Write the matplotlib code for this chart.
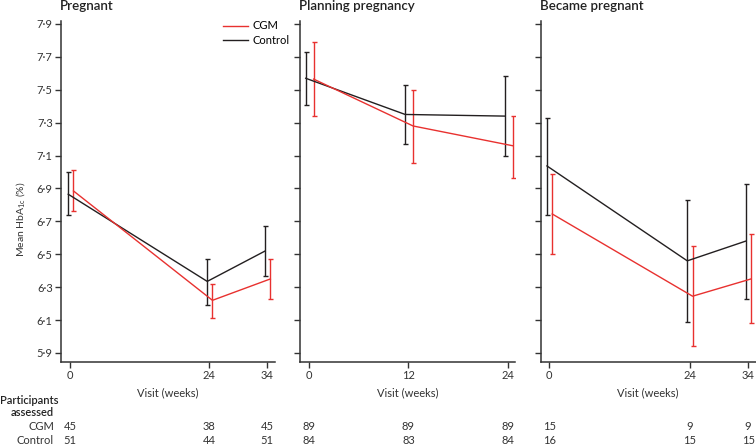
import matplotlib.pyplot as plt
import numpy as np

plt.rcParams['font.family'] = ['Lato', 'DejaVu Sans']
plt.rcParams['font.size'] = 8

RED = '#e8312f'
BLACK = '#231f20'

titles = ['Pregnant', 'Planning pregnancy', 'Became pregnant']
weeks = [[0, 24, 34], [0, 12, 24], [0, 24, 34]]

# mean HbA1c with 95% CI, per panel
cgm_mean = [[6.885, 6.22, 6.35], [7.565, 7.28, 7.16], [6.745, 6.245, 6.35]]
cgm_lo = [[6.76, 6.115, 6.23], [7.34, 7.057, 6.966], [6.50, 5.94, 6.08]]
cgm_hi = [[7.01, 6.32, 6.47], [7.79, 7.50, 7.34], [6.99, 6.55, 6.625]]

ctl_mean = [[6.865, 6.335, 6.52], [7.57, 7.35, 7.34], [7.037, 6.46, 6.58]]
ctl_lo = [[6.74, 6.19, 6.37], [7.41, 7.17, 7.10], [6.74, 6.087, 6.23]]
ctl_hi = [[7.00, 6.47, 6.67], [7.73, 7.53, 7.586], [7.33, 6.83, 6.93]]

n_cgm = [[45, 38, 45], [89, 89, 89], [15, 9, 9]]
n_ctl = [[51, 44, 51], [84, 83, 84], [16, 15, 15]]

yticks = [5.9, 6.1, 6.3, 6.5, 6.7, 6.9, 7.1, 7.3, 7.5, 7.7, 7.9]

fig = plt.figure(figsize=(7.56, 4.45), dpi=100)
W, H = 756, 445
lefts = [61, 300, 540.7]
widths = [214, 215, 215]
top_px, bot_px = 20.7, 362
xlims = [(-1.55, 35.4), (-1.09, 24.85), (-1.47, 35.3)]
offs = [(-0.3, 0.6), (-0.4, 0.55), (-0.4, 0.5)]

for i in range(3):
    ax = fig.add_axes([lefts[i] / W, (H - bot_px) / H, widths[i] / W, (bot_px - top_px) / H])
    x = np.array(weeks[i], dtype=float)
    ob, orr = offs[i]
    # control
    cm = np.array(ctl_mean[i])
    ax.errorbar(x + ob, cm, yerr=[cm - np.array(ctl_lo[i]), np.array(ctl_hi[i]) - cm],
                color=BLACK, lw=1.0, elinewidth=1.0, capsize=1.8, capthick=1.0, zorder=3)
    # cgm
    rm = np.array(cgm_mean[i])
    ax.errorbar(x + orr, rm, yerr=[rm - np.array(cgm_lo[i]), np.array(cgm_hi[i]) - rm],
                color=RED, lw=1.0, elinewidth=1.0, capsize=1.8, capthick=1.0, zorder=3)

    ax.set_xlim(*xlims[i])
    ax.set_ylim(5.845, 7.92)
    ax.set_xticks(weeks[i])
    ax.set_xticklabels([str(w) for w in weeks[i]])
    ax.set_yticks(yticks)
    if i == 0:
        ax.set_yticklabels([f'{v:.1f}'.replace('.', '·') for v in yticks])
    else:
        ax.set_yticklabels([])
    for s in ['top', 'right']:
        ax.spines[s].set_visible(False)
    for s in ['left', 'bottom']:
        ax.spines[s].set_color('#333333')
        ax.spines[s].set_linewidth(1.1)
    ax.tick_params(length=4, width=1.0, color='#333333', labelcolor='#333333', pad=2)
    ax.set_xlabel('Visit (weeks)', color='#333333', labelpad=4)
    ax.set_title(titles[i], loc='left', fontweight='semibold', color='#222222', pad=8, x=-0.005)

    # participants table
    for j, w in enumerate(weeks[i]):
        ax.annotate(str(n_cgm[i][j]), xy=(w, 0), xycoords=('data', 'figure fraction'),
                    xytext=(w, (H - 427) / H), textcoords=('data', 'figure fraction'),
                    ha='center', va='center', color='#333333', annotation_clip=False)
        ax.annotate(str(n_ctl[i][j]), xy=(w, 0), xycoords=('data', 'figure fraction'),
                    xytext=(w, (H - 440) / H), textcoords=('data', 'figure fraction'),
                    ha='center', va='center', color='#333333', annotation_clip=False)

    if i == 0:
        ax.set_ylabel('Mean HbA$_\\mathregular{1c}$ (%)', color='#333333', fontsize=7.5)
        ax.yaxis.set_label_coords((28 - 61) / 214, (bot_px - 219) / (bot_px - top_px))
        ax.plot([], [], color=RED, lw=1.0, label='CGM')
        ax.plot([], [], color=BLACK, lw=1.0, label='Control')
        ax.legend(loc='upper left', bbox_to_anchor=(0.71, 1.03), frameon=False,
                  handlelength=2.3, handletextpad=0.4, labelspacing=0.3, fontsize=8)

fig.text(0 / W, 1 - 400 / H, 'Participants', ha='left', va='center', fontweight='semibold', color='#222222')
fig.text(54 / W, 1 - 413 / H, 'assessed', ha='right', va='center', fontweight='semibold', color='#222222')
fig.text(54 / W, 1 - 427 / H, 'CGM', ha='right', va='center', color='#333333')
fig.text(54 / W, 1 - 440 / H, 'Control', ha='right', va='center', color='#333333')

fig.savefig('out.png', dpi=100)
